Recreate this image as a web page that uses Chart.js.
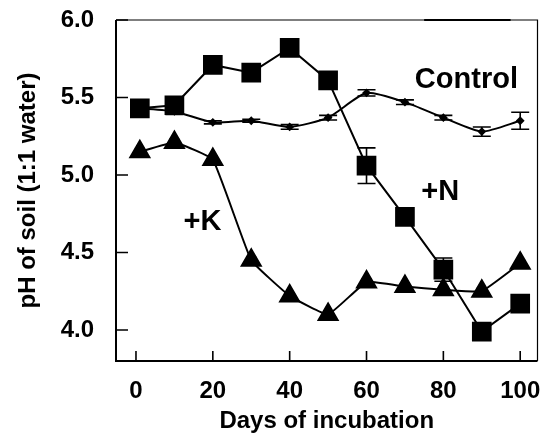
<!DOCTYPE html>
<html>
<head>
<meta charset="utf-8">
<script src="https://cdn.jsdelivr.net/npm/chart.js@4.4.1/dist/chart.umd.min.js"></script>
<style>
    html, body { margin: 0; padding: 0; background: #fff; }
    #wrap { width: 552px; height: 439px; }
</style>
</head>
<body>
<div id="wrap"><canvas id="phChart"></canvas></div>
<script>
// Soil pH over the incubation period
const days = [1, 10, 20, 30, 40, 50, 60, 70, 80, 90, 100];
const controlPH = [5.43, 5.41, 5.34, 5.35, 5.31, 5.37, 5.53, 5.47, 5.37, 5.28, 5.35];
const controlErr = [0.02, 0.02, 0.01, 0.01, 0.015, 0.015, 0.02, 0.015, 0.015, 0.03, 0.055];
const nitrogenPH = [5.43, 5.45, 5.71, 5.66, 5.82, 5.61, 5.06, 4.73, 4.39, 3.99, 4.17];
const nitrogenErr = [0.02, 0.02, 0.02, 0.02, 0.02, 0.02, 0.115, 0.02, 0.075, 0.02, 0.02];
const potassiumPH = [5.15, 5.21, 5.10, 4.45, 4.22, 4.10, 4.31, 4.28, 4.26, 4.25, 4.43];
const potassiumErr = [0.02, 0.02, 0.02, 0.02, 0.02, 0.02, 0.02, 0.02, 0.02, 0.02, 0.02];

const xTicks = [0, 20, 40, 60, 80, 100];
const yTicks = [4.0, 4.5, 5.0, 5.5, 6.0];

// series labels written inside the plot, placed in data units
const seriesLabels = [
    { text: 'Control', x: 86, y: 5.61 },
    { text: '+N', x: 79.2, y: 4.89 },
    { text: '+K', x: 17.3, y: 4.70 }
];

const FONT = '"Liberation Sans", Arial, Helvetica, sans-serif';

const toPoints = (ys) => ys.map((y, i) => ({ x: days[i], y: y }));

// vertical error bars with caps, drawn under the markers
const errorBars = {
    id: 'errorBars',
    beforeDatasetsDraw(chart) {
        const { ctx, scales: { x, y } } = chart;
        ctx.save();
        ctx.strokeStyle = '#000';
        ctx.lineWidth = 1.6;
        chart.data.datasets.forEach(ds => {
            const cap = ds.capWidth / 2;
            ds.data.forEach((p, i) => {
                const e = ds.errors[i];
                const px = x.getPixelForValue(p.x);
                const top = y.getPixelForValue(p.y + e);
                const bot = y.getPixelForValue(p.y - e);
                ctx.beginPath();
                ctx.moveTo(px, top); ctx.lineTo(px, bot);
                ctx.moveTo(px - cap, top); ctx.lineTo(px + cap, top);
                ctx.moveTo(px - cap, bot); ctx.lineTo(px + cap, bot);
                ctx.stroke();
            });
        });
        ctx.restore();
    }
};

// plot frame with inward tick marks, plus the series labels
const frameAndLabels = {
    id: 'frameAndLabels',
    afterDatasetsDraw(chart) {
        const { ctx, chartArea: a, scales: { x, y } } = chart;
        ctx.save();
        ctx.strokeStyle = '#000';

        ctx.lineWidth = 1.2;
        ctx.beginPath();
        ctx.moveTo(a.left, a.top); ctx.lineTo(a.right, a.top);
        ctx.lineTo(a.right, a.bottom);
        ctx.stroke();
        // darker stretch along the top edge
        ctx.lineWidth = 2.2;
        ctx.beginPath();
        ctx.moveTo(x.getPixelForValue(75), a.top); ctx.lineTo(x.getPixelForValue(97.5), a.top);
        ctx.stroke();

        ctx.lineWidth = 2;
        ctx.beginPath();
        ctx.moveTo(a.left, a.top); ctx.lineTo(a.left, a.bottom); ctx.lineTo(a.right, a.bottom);
        ctx.stroke();

        ctx.lineWidth = 1.6;
        ctx.beginPath();
        yTicks.forEach(v => {
            const py = y.getPixelForValue(v);
            ctx.moveTo(a.left, py); ctx.lineTo(a.left + 12, py);
        });
        xTicks.forEach(v => {
            const px = x.getPixelForValue(v);
            ctx.moveTo(px, a.bottom); ctx.lineTo(px, a.bottom - 10);
        });
        ctx.stroke();

        ctx.fillStyle = '#000';
        ctx.font = 'bold 29px ' + FONT;
        ctx.textAlign = 'center';
        ctx.textBaseline = 'middle';
        seriesLabels.forEach(l => {
            ctx.fillText(l.text, x.getPixelForValue(l.x), y.getPixelForValue(l.y));
        });
        ctx.restore();
    }
};

new Chart(document.getElementById('phChart'), {
    type: 'line',
    data: {
        datasets: [
            {
                label: '+N',
                data: toPoints(nitrogenPH),
                errors: nitrogenErr,
                capWidth: 18,
                borderColor: '#000',
                backgroundColor: '#000',
                borderWidth: 2,
                pointStyle: 'rect',
                pointRadius: 12.5,
                tension: 0
            },
            {
                label: '+K',
                data: toPoints(potassiumPH),
                errors: potassiumErr,
                capWidth: 10,
                borderColor: '#000',
                backgroundColor: '#000',
                borderWidth: 2,
                pointStyle: 'triangle',
                pointRadius: 11,
                tension: 0.1
            },
            {
                label: 'Control',
                data: toPoints(controlPH),
                errors: controlErr,
                capWidth: 18,
                borderColor: '#000',
                backgroundColor: '#000',
                borderWidth: 2,
                pointStyle: 'rectRot',
                pointRadius: 3,
                tension: 0.2
            }
        ]
    },
    options: {
        responsive: true,
        maintainAspectRatio: false,
        animation: false,
        events: [],
        layout: { padding: { left: 0, right: 14, top: 20, bottom: 0 } },
        plugins: {
            legend: { display: false },
            tooltip: { enabled: false }
        },
        scales: {
            x: {
                type: 'linear',
                min: -5.2,
                max: 104.5,
                afterBuildTicks: (scale) => { scale.ticks = xTicks.map(v => ({ value: v })); },
                afterFit: (scale) => {
                    scale.height = 78;
                    scale.paddingLeft = 0;
                    scale.paddingRight = 0;
                },
                grid: { display: false },
                border: { display: false },
                ticks: {
                    color: '#000',
                    padding: 8,
                    maxRotation: 0,
                    font: { family: FONT, size: 24, weight: 'bold' }
                },
                title: {
                    display: true,
                    text: 'Days of incubation',
                    color: '#000',
                    padding: { top: 0, bottom: 3 },
                    font: { family: FONT, size: 24, weight: 'bold' }
                }
            },
            y: {
                min: 3.8,
                max: 6.0,
                afterBuildTicks: (scale) => { scale.ticks = yTicks.map(v => ({ value: v })); },
                afterFit: (scale) => {
                    scale.width = 116;
                    scale.paddingTop = 0;
                    scale.paddingBottom = 0;
                },
                grid: { display: false },
                border: { display: false },
                ticks: {
                    color: '#000',
                    padding: 14,
                    callback: (v) => v.toFixed(1),
                    font: { family: FONT, size: 24, weight: 'bold' }
                },
                title: {
                    display: true,
                    text: 'pH of soil (1:1 water)',
                    color: '#000',
                    padding: { top: 14, bottom: 0 },
                    font: { family: FONT, size: 24, weight: 'bold' }
                }
            }
        }
    },
    plugins: [errorBars, frameAndLabels]
});
</script>
</body>
</html>
